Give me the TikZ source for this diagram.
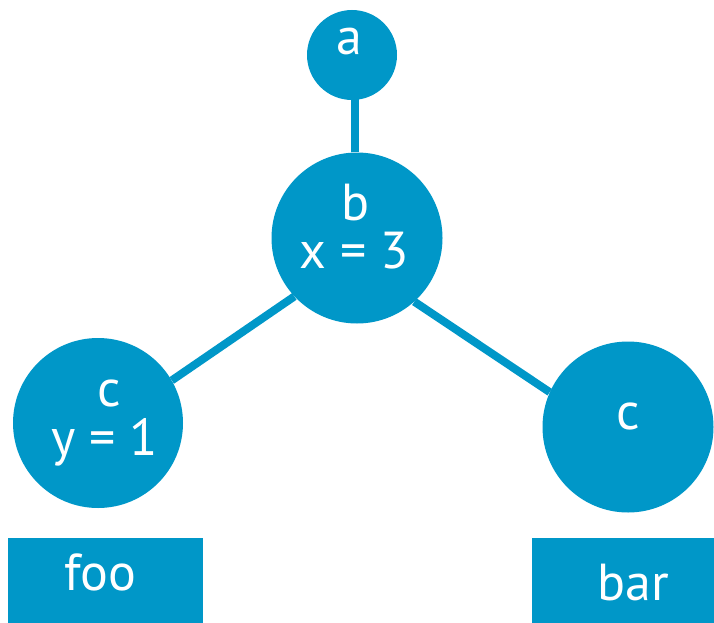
\documentclass[tikz,border=0pt]{standalone}
\usepackage{fontspec}
\setmainfont{PT Sans}
\definecolor{nodeblue}{RGB}{0,151,200}
\pgfdeclarelayer{background}
\pgfsetlayers{background,main}
\begin{document}
\begin{tikzpicture}[x=1pt,y=-1pt,
  ball/.style={circle,fill=nodeblue,draw=none,inner sep=0pt,minimum size=#1},
  tag/.style={fill=nodeblue,draw=none,inner sep=0pt,anchor=north west},
  txt/.style={text=white,font=\fontsize{52}{52}\selectfont,anchor=base,inner sep=0pt},
  edge/.style={draw=nodeblue,line width=8pt}]
\useasboundingbox (0,0) rectangle (714,623);

% tree nodes
\node[ball=90pt]  (a)  at (352,55)  {};
\node[ball=171pt] (b)  at (357,238) {};
\node[ball=170pt] (cl) at (98,423)  {};
\node[ball=171pt] (cr) at (628,427) {};

% connectors, kept behind the circles
\begin{pgfonlayer}{background}
\draw[edge] ([xshift=-2pt]b.north) -- ([xshift=-2pt]b.north |- a.center);
\draw[edge] (b.223) -- (cl.30);
\draw[edge] (b.312) -- (cr.156);
\end{pgfonlayer}

% labels inside circles
\node[txt] (ta)  at (349,55)  {a};
\node[txt] (tb)  at (356,220) {b};
\node[txt] (tbx) at (354,268) {x = 3};
\node[txt] (tcl) at (109,406) {c};
\node[txt] (tcy) at (105,455) {y = 1};
\node[txt] (tcr) at (628,429) {c};

% boxes underneath
\node[tag,minimum width=195pt,minimum height=85pt] (foo) at (8,538) {};
\node[tag,minimum width=182pt,minimum height=85pt] (bar) at (532,538) {};
\node[txt] (tfoo) at (100,590) {foo};
\node[txt] (tbar) at (633,600) {bar};
\end{tikzpicture}
\end{document}
